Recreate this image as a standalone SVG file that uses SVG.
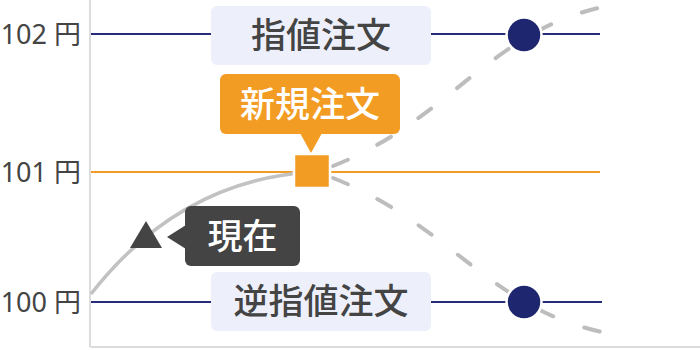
<svg xmlns="http://www.w3.org/2000/svg" width="700" height="350" viewBox="0 0 700 350">
<style>
.lbl{font-family:"Noto Sans","Noto Sans CJK JP",sans-serif;font-size:27px;fill:#444;text-anchor:end;}
.bt{font-family:"Noto Sans CJK JP","Noto Sans CJK SC",sans-serif;font-size:35px;font-weight:500;text-anchor:middle;}
.navy{stroke:#262c78;stroke-width:2;fill:none;}
.dash{stroke:#bdbdbd;stroke-width:4;fill:none;stroke-dasharray:16 33;stroke-linecap:round;}
.lightbox{fill:#edf0fb;}
</style>
<rect width="700" height="350" fill="#fff"/>
<g id="axes" stroke="#dcdcdc" stroke-width="2" fill="none">
<line x1="90" y1="0" x2="90" y2="347"/>
<line x1="90" y1="347" x2="700" y2="347"/>
</g>
<g id="labels">
<text class="lbl" x="81" y="44">102 円</text>
<text class="lbl" x="81" y="182">101 円</text>
<text class="lbl" x="81" y="312">100 円</text>
</g>
<g id="connectors">
<line class="navy" x1="91" y1="34" x2="600" y2="34"/>
<line class="navy" x1="91" y1="302" x2="602" y2="302"/>
<line x1="91" y1="172" x2="600" y2="172" stroke="#f39c24" stroke-width="2"/>
<path d="M91 294 Q180 180 312 172" stroke="#c2c2c2" stroke-width="3.5" fill="none"/>
<path class="dash" d="M333 166 C450 120 490 30 607 6"/>
<path class="dash" d="M333 178 C450 224 490 310 607 333"/>
</g>
<g id="node-limit">
<rect class="lightbox" x="211" y="6" width="220" height="59" rx="6"/>
<text class="bt" x="321" y="48" fill="#444">指値注文</text>
</g>
<g id="node-stop">
<rect class="lightbox" x="211" y="272" width="220" height="59" rx="6"/>
<text class="bt" x="321" y="314" fill="#444">逆指値注文</text>
</g>
<g id="node-new">
<rect x="220" y="74" width="180" height="60" rx="6" fill="#f39c24"/>
<polygon points="300,133 322,133 311,153" fill="#f39c24"/>
<text class="bt" x="310" y="117" fill="#fff">新規注文</text>
</g>
<g id="node-now">
<rect x="185" y="206" width="115" height="60" rx="6" fill="#444"/>
<polygon points="186,225 186,249 167,237" fill="#444"/>
<text class="bt" x="242.5" y="249" fill="#fff">現在</text>
</g>
<g id="markers">
<rect x="294" y="154" width="36" height="34" fill="#f39c24" stroke="#fff" stroke-width="2.5"/>
<polygon points="146,221 130,248 162,248" fill="#444"/>
<circle cx="524" cy="35" r="17.5" fill="#1f2670" stroke="#fff" stroke-width="2.5"/>
<circle cx="524" cy="302" r="17.5" fill="#1f2670" stroke="#fff" stroke-width="2.5"/>
</g>
</svg>
